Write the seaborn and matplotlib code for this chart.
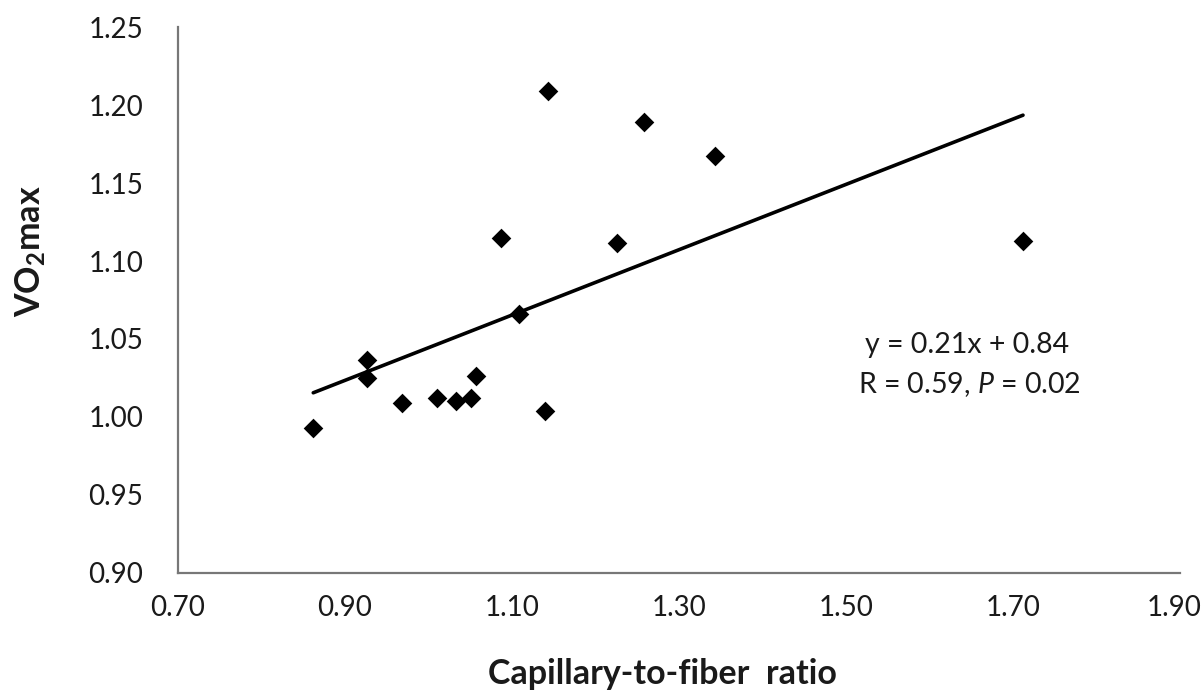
import numpy as np
import pandas as pd
import matplotlib
matplotlib.use("Agg")
import matplotlib.pyplot as plt
import matplotlib.transforms as mtransforms
import seaborn as sns

# Capillary-to-fiber ratio vs VO2max (one diamond per subject)
cap_to_fiber = [0.862, 0.926, 0.926, 0.968, 1.010, 1.033, 1.051, 1.057,
                1.140, 1.143, 1.258, 1.343, 1.087, 1.226, 1.108, 1.712]
vo2max = [0.993, 1.0365, 1.025, 1.009, 1.012, 1.010, 1.012, 1.026,
          1.004, 1.209, 1.189, 1.167, 1.115, 1.1115, 1.066, 1.113]

x_ticks = [0.70, 0.90, 1.10, 1.30, 1.50, 1.70, 1.90]
y_ticks = [0.90, 0.95, 1.00, 1.05, 1.10, 1.15, 1.20, 1.25]

eq_text = "y = 0.21x + 0.84"
stat_text = r"R = 0.59, $\mathit{P}$ = 0.02"

df = pd.DataFrame({"ratio": cap_to_fiber, "vo2": vo2max})

sns.set_theme(style="white")
font = "Lato"
plt.rcParams["font.family"] = [font, "DejaVu Sans"]
plt.rcParams["mathtext.fontset"] = "custom"
plt.rcParams["mathtext.rm"] = font
plt.rcParams["mathtext.it"] = f"{font}:italic"
plt.rcParams["mathtext.bf"] = f"{font}:bold"

ink = "#1a1a1a"

fig = plt.figure(figsize=(12.01, 6.98), dpi=100)
ax = fig.add_axes([0.1482, 0.1791, 0.8343, 0.7822])

sns.regplot(data=df, x="ratio", y="vo2", ax=ax, ci=None, truncate=True,
            marker="D", color="black",
            scatter_kws={"s": 100, "linewidths": 0, "alpha": 1, "zorder": 3},
            line_kws={"color": "black", "linewidth": 2.6, "zorder": 2})

ax.set_xlim(0.70, 1.90)
ax.set_ylim(0.90, 1.25)
ax.set_xticks(x_ticks)
ax.set_yticks(y_ticks)
ax.set_xticklabels([f"{v:.2f}" for v in x_ticks])
ax.set_yticklabels([f"{v:.2f}" for v in y_ticks])
ax.tick_params(axis="both", length=0, labelsize=20, colors=ink)
ax.tick_params(axis="y", pad=25)
ax.tick_params(axis="x", pad=16)

# keep the last x tick label inside the figure edge
last = ax.get_xticklabels()[-1]
last.set_transform(last.get_transform() +
                   mtransforms.ScaledTranslation(-4 / 72, 0, fig.dpi_scale_trans))

for side in ("top", "right"):
    ax.spines[side].set_visible(False)
for side in ("left", "bottom"):
    ax.spines[side].set_color("#777777")
    ax.spines[side].set_linewidth(1.6)

ax.set_xlabel("Capillary-to-fiber  ratio", fontsize=24.5, fontweight="bold",
              color=ink)
ax.xaxis.set_label_coords(0.483, -0.155)
ax.set_ylabel(r"VO$_\mathbf{2}$max", fontsize=24.5, fontweight="bold",
              color=ink)
ax.yaxis.set_label_coords(-0.130, 0.59)

ax.text(1.523, 1.046, eq_text, fontsize=20.5, color=ink, va="center")
ax.text(1.514, 1.0205, stat_text, fontsize=20.5, color=ink, va="center")

fig.savefig("out.png", dpi=100, facecolor="white")
